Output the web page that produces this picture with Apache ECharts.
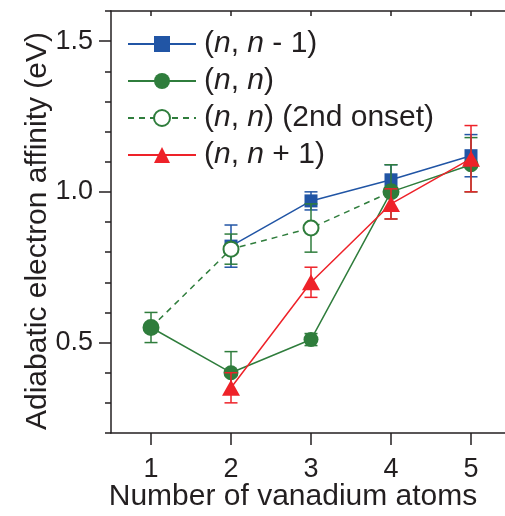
<!DOCTYPE html>
<html><head><meta charset="utf-8">
<script src="https://cdn.jsdelivr.net/npm/echarts@6/dist/echarts.min.js"></script>
<style>html,body{margin:0;padding:0;background:#fff}#c{width:505px;height:516px}</style>
</head><body><div id="c"></div>
<script>
const atoms = [1, 2, 3, 4, 5];
const nm1Vals = [null, 0.82, 0.97, 1.04, 1.12];
const nm1Err = [null, 0.07, 0.03, 0.05, 0.07];
const nnVals = [0.55, 0.40, 0.51, 1.00, 1.09];
const nnErr = [0.05, 0.07, 0.02, 0.09, 0.09];
const onsetVals = [0.55, 0.81, 0.88, 1.00, null];
const onsetErr = [null, 0.05, 0.08, null, null];
const np1Vals = [null, 0.35, 0.70, 0.96, 1.11];
const np1Err = [null, 0.05, 0.05, 0.05, 0.11];
const xTicks = [1, 2, 3, 4, 5];
const yMajor = [0.5, 1.0, 1.5];

const BLUE = '#2155a5', GREEN = '#2f7d3c', RED = '#ee2229', INK = '#231f20';
const FONT = 'Liberation Sans, Arial, Helvetica, sans-serif';

function pts(vals) { return atoms.map((x, i) => vals[i] == null ? null : [x, vals[i]]).filter(Boolean); }
function errs(vals, e) { return atoms.map((x, i) => (vals[i] == null || e[i] == null) ? null : [x, vals[i] - e[i], vals[i] + e[i]]).filter(Boolean); }

function errSeries(vals, e, color, z) {
  return {
    type: 'custom', xAxisIndex: 0, yAxisIndex: 0, z: z, silent: true,
    data: errs(vals, e),
    renderItem: function (params, api) {
      const x = api.value(0), lo = api.coord([x, api.value(1)]), hi = api.coord([x, api.value(2)]);
      const w = 6.5;
      const st = { stroke: color, lineWidth: 1.5, fill: 'none' };
      return { type: 'group', children: [
        { type: 'line', shape: { x1: lo[0], y1: lo[1], x2: hi[0], y2: hi[1] }, style: st },
        { type: 'line', shape: { x1: lo[0] - w, y1: lo[1], x2: lo[0] + w, y2: lo[1] }, style: st },
        { type: 'line', shape: { x1: hi[0] - w, y1: hi[1], x2: hi[0] + w, y2: hi[1] }, style: st }
      ] };
    }
  };
}

const rich = {
  s: { fontSize: 30, lineHeight: 25, fontFamily: FONT, color: INK, padding: [0, 0, 0, 3] },
  p: { fontSize: 30, lineHeight: 25, fontFamily: FONT, color: INK },
  i: { fontSize: 30, lineHeight: 25, fontFamily: FONT, fontStyle: 'italic', color: INK }
};
const names = ['nm1', 'nn', 'onset', 'np1'];
const legendText = {
  nm1: '{s|(}{i|n}{p|, }{i|n}{p| - 1)}',
  nn: '{s|(}{i|n}{p|, }{i|n}{p|)}',
  onset: '{s|(}{i|n}{p|, }{i|n}{p|) (2nd onset)}',
  np1: '{s|(}{i|n}{p|, }{i|n}{p| + 1)}'
};

const chart = echarts.init(document.getElementById('c'), null, { renderer: 'canvas' });
chart.setOption({
  animation: false,
  backgroundColor: '#fff',
  grid: { left: 111, top: 11, width: 400, height: 422, containLabel: false, outerBoundsMode: 'none' },
  legend: {
    orient: 'vertical', left: 127, top: 29, padding: 0, itemWidth: 68, itemHeight: 20, itemGap: 7,
    data: names, formatter: n => legendText[n],
    textStyle: { rich: rich, fontSize: 30, lineHeight: 25 }
  },
  graphic: [{
    type: 'text', x: 38, y: 231, rotation: Math.PI / 2,
    style: { text: 'Adiabatic electron affinity (eV)', fontSize: 30, fontFamily: FONT, fill: INK, align: 'center', verticalAlign: 'middle' }
  }, {
    type: 'text', x: 293, y: 497,
    style: { text: 'Number of vanadium atoms', fontSize: 30, fontFamily: FONT, fill: INK, align: 'center', verticalAlign: 'middle' }
  }],
  xAxis: [
    { type: 'value', min: 0.5, max: 5.5, position: 'bottom',
      axisLine: { show: true, lineStyle: { color: INK, width: 1.5 } },
      axisTick: { show: true, inside: false, length: 12, lineStyle: { color: INK, width: 1.5 }, customValues: xTicks },
      axisLabel: { show: true, customValues: xTicks, fontSize: 27, fontFamily: FONT, color: INK, margin: 23 },
      splitLine: { show: false } },
    { type: 'value', min: 0.5, max: 5.5, position: 'top',
      axisLine: { show: true, lineStyle: { color: INK, width: 1.5 } },
      axisTick: { show: true, inside: true, length: 5, lineStyle: { color: INK, width: 1.5 }, customValues: xTicks },
      axisLabel: { show: false }, splitLine: { show: false } }
  ],
  yAxis: [
    { type: 'value', min: 0.2, max: 1.6, interval: 0.1, position: 'left',
      axisLine: { show: true, lineStyle: { color: INK, width: 1.5 } },
      axisTick: { show: true, inside: false, length: 6, lineStyle: { color: INK, width: 1.5 } },
      axisLabel: { show: false }, splitLine: { show: false } },
    { type: 'value', min: 0.2, max: 1.6, position: 'left',
      axisLine: { show: false },
      axisTick: { show: true, inside: false, length: 12, customValues: yMajor, lineStyle: { color: INK, width: 1.5 } },
      axisLabel: { show: true, customValues: yMajor, formatter: v => v.toFixed(1), fontSize: 27, fontFamily: FONT, color: INK, margin: 18 },
      splitLine: { show: false } }
  ],
  series: [
    errSeries(nm1Vals, nm1Err, BLUE, 2),
    { name: 'nm1', type: 'line', z: 3, data: pts(nm1Vals), symbol: 'rect', symbolSize: 13,
      lineStyle: { color: BLUE, width: 1.5 }, itemStyle: { color: BLUE } },
    errSeries(onsetVals, onsetErr, GREEN, 4),
    { name: 'onset', type: 'line', z: 5, data: pts(onsetVals), symbol: 'emptyCircle', symbolSize: 15,
      lineStyle: { color: GREEN, width: 1.5, type: [6, 5] }, itemStyle: { color: GREEN, borderColor: GREEN, borderWidth: 1.3 } },
    errSeries(nnVals, nnErr, GREEN, 6),
    { name: 'nn', type: 'line', z: 7, data: pts(nnVals), symbol: 'circle', symbolSize: 15,
      lineStyle: { color: GREEN, width: 1.5 }, itemStyle: { color: GREEN } },
    errSeries(np1Vals, np1Err, RED, 8),
    { name: 'np1', type: 'line', z: 9, data: pts(np1Vals), symbol: 'triangle', symbolSize: [18, 16],
      lineStyle: { color: RED, width: 1.5 }, itemStyle: { color: RED } }
  ]
});
</script></body></html>
